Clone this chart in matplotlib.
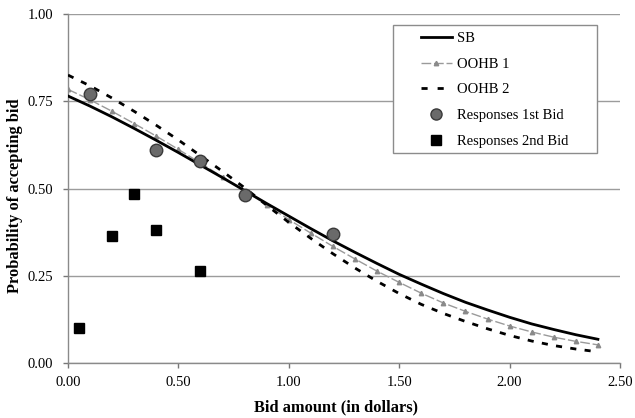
import matplotlib
matplotlib.use("Agg")
import matplotlib.pyplot as plt
from matplotlib.lines import Line2D
from matplotlib.patches import Rectangle

# Bid grid for the fitted curves (dollars)
bid_grid = [0.0, 0.1, 0.2, 0.3, 0.4, 0.5, 0.6, 0.7, 0.8, 0.9, 1.0, 1.1, 1.2,
            1.3, 1.4, 1.5, 1.6, 1.7, 1.8, 1.9, 2.0, 2.1, 2.2, 2.3, 2.4]

# Fitted acceptance probabilities
sb = [0.765, 0.736, 0.705, 0.672, 0.638, 0.603, 0.567, 0.531, 0.494, 0.457,
      0.421, 0.385, 0.350, 0.317, 0.285, 0.254, 0.226, 0.199, 0.174, 0.152,
      0.131, 0.112, 0.096, 0.081, 0.068]
oohb1 = [0.784, 0.754, 0.721, 0.686, 0.650, 0.612, 0.573, 0.533, 0.493, 0.453,
         0.411, 0.372, 0.334, 0.298, 0.263, 0.231, 0.200, 0.172, 0.148, 0.126,
         0.106, 0.089, 0.074, 0.062, 0.052]
oohb2 = [0.825, 0.794, 0.759, 0.721, 0.681, 0.639, 0.594, 0.549, 0.502, 0.452,
         0.403, 0.357, 0.313, 0.272, 0.234, 0.199, 0.168, 0.142, 0.119, 0.098,
         0.079, 0.063, 0.050, 0.040, 0.032]

# Observed shares of yes responses
bid1_x = [0.1, 0.4, 0.6, 0.8, 1.2]
bid1_y = [0.77, 0.61, 0.58, 0.48, 0.37]
bid2_x = [0.05, 0.2, 0.3, 0.4, 0.6]
bid2_y = [0.10, 0.365, 0.485, 0.38, 0.265]

x_ticks = [0.0, 0.5, 1.0, 1.5, 2.0, 2.5]
y_ticks = [0.0, 0.25, 0.5, 0.75, 1.0]

serif = ["Liberation Serif", "DejaVu Serif"]
plt.rcParams["font.family"] = serif

W, H = 635, 418
fig = plt.figure(figsize=(W / 100, H / 100), dpi=100)
ax = fig.add_axes([68 / W, 1 - 363 / H, (620 - 68) / W, (363 - 14) / H])

ax.plot(bid_grid, sb, color="black", lw=2.0, zorder=4, label="SB")
ax.plot(bid_grid, oohb1, color="#9a9a9a", lw=1.0, ls=(0, (7, 2)),
        marker="^", ms=3.2, mfc="#8a8a8a", mec="#8a8a8a", zorder=3,
        label="OOHB 1")
ax.plot(bid_grid, oohb2, color="black", lw=2.0, ls=(0, (2.2, 3.0)),
        zorder=3, label="OOHB 2")
ax.plot(bid1_x, bid1_y, ls="none", marker="o", ms=9, mfc="#6a6a6a",
        mec="#3a3a3a", mew=1.0, zorder=6, label="Responses 1st Bid")
ax.plot(bid2_x, bid2_y, ls="none", marker="s", ms=7.5, mfc="black",
        mec="black", zorder=6, label="Responses 2nd Bid")

ax.set_xlim(0, 2.5)
ax.set_ylim(0, 1.0)
ax.set_xticks(x_ticks)
ax.set_yticks(y_ticks)
ax.set_xticklabels([f"{v:.2f}" for v in x_ticks])
ax.set_yticklabels([f"{v:.2f}" for v in y_ticks])
ax.tick_params(axis="both", labelsize=10.5, length=3.5, width=1,
               color="#777777", direction="out", pad=6)
ax.tick_params(axis="y", pad=7)

ax.set_axisbelow(True)
ax.yaxis.grid(True, color="#9c9c9c", lw=1.0)
ax.xaxis.grid(False)
for side in ("top", "right"):
    ax.spines[side].set_visible(False)
for side in ("left", "bottom"):
    ax.spines[side].set_color("#8a8a8a")
    ax.spines[side].set_linewidth(1.0)

fig.text(336 / W, 1 - 407 / H, "Bid amount (in dollars)", ha="center",
         va="center", fontsize=11.8, fontweight="bold")
fig.text(15 / W, 1 - 196 / H, "Probability of accepting bid", ha="center",
         va="center", rotation=90, fontsize=11.8, fontweight="bold")

# Legend box
box = Rectangle((393 / W, 1 - 153 / H), (597 - 393) / W, (153 - 25) / H,
                transform=fig.transFigure, facecolor="white",
                edgecolor="#8c8c8c", lw=1.0, zorder=7, clip_on=False)
ax.add_patch(box)

handles = [
    Line2D([], [], color="black", lw=2.0),
    Line2D([], [], color="#9a9a9a", lw=1.0, ls=(0, (7, 2)), marker="^",
           ms=3.2, mfc="#8a8a8a", mec="#8a8a8a", markevery=[1]),
    Line2D([], [], color="black", lw=2.0, ls=(0, (2.2, 3.6))),
    Line2D([], [], ls="none", marker="o", ms=8, mfc="#6a6a6a",
           mec="#3a3a3a"),
    Line2D([], [], ls="none", marker="s", ms=7, mfc="black", mec="black"),
]
labels = ["SB", "OOHB 1", "OOHB 2", "Responses 1st Bid", "Responses 2nd Bid"]
leg = ax.legend(handles, labels, loc="upper left",
                bbox_to_anchor=(421 / W, 1 - 32 / H),
                bbox_transform=fig.transFigure, frameon=False,
                fontsize=10.5, handlelength=2.1, handletextpad=0.35,
                labelspacing=0.85, borderpad=0, borderaxespad=0)
leg.set_zorder(8)

fig.savefig("out.png", dpi=100)
